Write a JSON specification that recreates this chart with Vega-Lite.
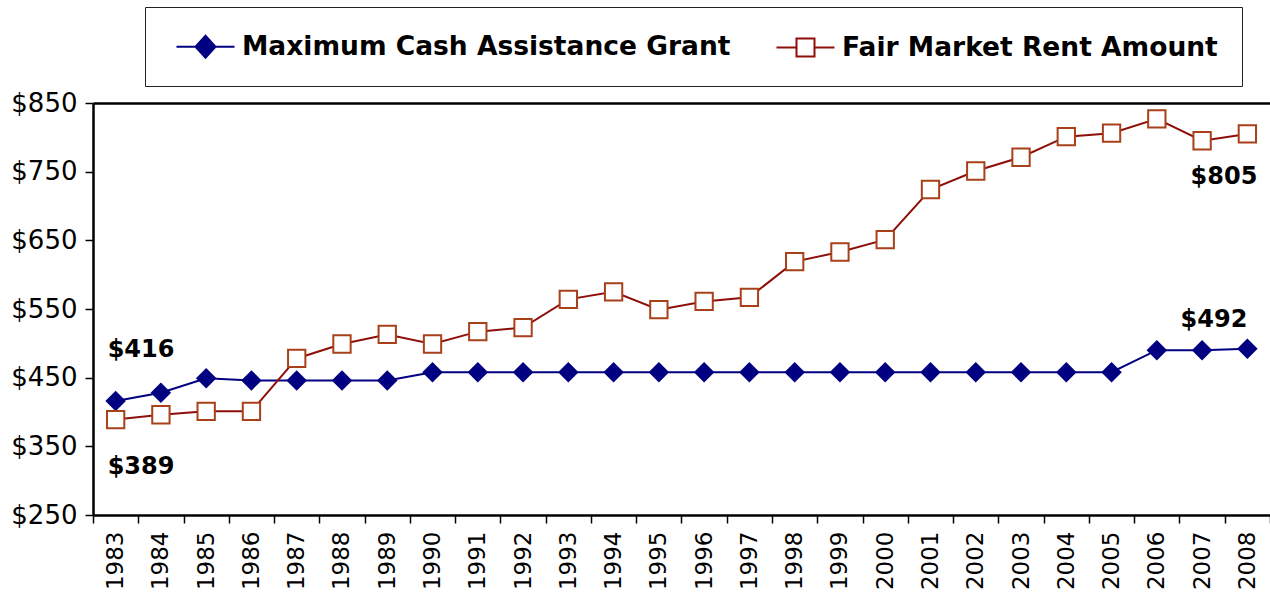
{
  "$schema": "https://vega.github.io/schema/vega-lite/v6.json",
  "autosize": "none",
  "width": 1177,
  "height": 412,
  "padding": {"left": 93, "top": 103, "right": 0, "bottom": 84},
  "background": "white",
  "config": {
    "view": {"stroke": null},
    "font": "DejaVu Sans"
  },
  "datasets": {
    "series": [
      {"year": "1983", "series": "Maximum Cash Assistance Grant", "value": 416},
      {"year": "1984", "series": "Maximum Cash Assistance Grant", "value": 428},
      {"year": "1985", "series": "Maximum Cash Assistance Grant", "value": 449},
      {"year": "1986", "series": "Maximum Cash Assistance Grant", "value": 446},
      {"year": "1987", "series": "Maximum Cash Assistance Grant", "value": 446},
      {"year": "1988", "series": "Maximum Cash Assistance Grant", "value": 446},
      {"year": "1989", "series": "Maximum Cash Assistance Grant", "value": 446},
      {"year": "1990", "series": "Maximum Cash Assistance Grant", "value": 458},
      {"year": "1991", "series": "Maximum Cash Assistance Grant", "value": 458},
      {"year": "1992", "series": "Maximum Cash Assistance Grant", "value": 458},
      {"year": "1993", "series": "Maximum Cash Assistance Grant", "value": 458},
      {"year": "1994", "series": "Maximum Cash Assistance Grant", "value": 458},
      {"year": "1995", "series": "Maximum Cash Assistance Grant", "value": 458},
      {"year": "1996", "series": "Maximum Cash Assistance Grant", "value": 458},
      {"year": "1997", "series": "Maximum Cash Assistance Grant", "value": 458},
      {"year": "1998", "series": "Maximum Cash Assistance Grant", "value": 458},
      {"year": "1999", "series": "Maximum Cash Assistance Grant", "value": 458},
      {"year": "2000", "series": "Maximum Cash Assistance Grant", "value": 458},
      {"year": "2001", "series": "Maximum Cash Assistance Grant", "value": 458},
      {"year": "2002", "series": "Maximum Cash Assistance Grant", "value": 458},
      {"year": "2003", "series": "Maximum Cash Assistance Grant", "value": 458},
      {"year": "2004", "series": "Maximum Cash Assistance Grant", "value": 458},
      {"year": "2005", "series": "Maximum Cash Assistance Grant", "value": 458},
      {"year": "2006", "series": "Maximum Cash Assistance Grant", "value": 490},
      {"year": "2007", "series": "Maximum Cash Assistance Grant", "value": 490},
      {"year": "2008", "series": "Maximum Cash Assistance Grant", "value": 492},
      {"year": "1983", "series": "Fair Market Rent Amount", "value": 389},
      {"year": "1984", "series": "Fair Market Rent Amount", "value": 396},
      {"year": "1985", "series": "Fair Market Rent Amount", "value": 401},
      {"year": "1986", "series": "Fair Market Rent Amount", "value": 401},
      {"year": "1987", "series": "Fair Market Rent Amount", "value": 478},
      {"year": "1988", "series": "Fair Market Rent Amount", "value": 499},
      {"year": "1989", "series": "Fair Market Rent Amount", "value": 513},
      {"year": "1990", "series": "Fair Market Rent Amount", "value": 499},
      {"year": "1991", "series": "Fair Market Rent Amount", "value": 517},
      {"year": "1992", "series": "Fair Market Rent Amount", "value": 523},
      {"year": "1993", "series": "Fair Market Rent Amount", "value": 564},
      {"year": "1994", "series": "Fair Market Rent Amount", "value": 575},
      {"year": "1995", "series": "Fair Market Rent Amount", "value": 549},
      {"year": "1996", "series": "Fair Market Rent Amount", "value": 561},
      {"year": "1997", "series": "Fair Market Rent Amount", "value": 567},
      {"year": "1998", "series": "Fair Market Rent Amount", "value": 619},
      {"year": "1999", "series": "Fair Market Rent Amount", "value": 633},
      {"year": "2000", "series": "Fair Market Rent Amount", "value": 651},
      {"year": "2001", "series": "Fair Market Rent Amount", "value": 724},
      {"year": "2002", "series": "Fair Market Rent Amount", "value": 751},
      {"year": "2003", "series": "Fair Market Rent Amount", "value": 771},
      {"year": "2004", "series": "Fair Market Rent Amount", "value": 801},
      {"year": "2005", "series": "Fair Market Rent Amount", "value": 806},
      {"year": "2006", "series": "Fair Market Rent Amount", "value": 827},
      {"year": "2007", "series": "Fair Market Rent Amount", "value": 795},
      {"year": "2008", "series": "Fair Market Rent Amount", "value": 805}
    ],
    "labels": [
      {"year": "1983", "value": 416, "label": "$416"},
      {"year": "1983", "value": 389, "label": "$389"},
      {"year": "2008", "value": 492, "label": "$492"},
      {"year": "2008", "value": 805, "label": "$805"}
    ]
  },
  "encoding": {
    "x": {
      "field": "year",
      "type": "ordinal",
      "scale": {"type": "band", "paddingInner": 0, "paddingOuter": 0},
      "axis": {
        "title": null,
        "tickBand": "extent",
        "labelAngle": -90,
        "labelFontSize": 23,
        "labelColor": "black",
        "labelPadding": 8,
        "tickSize": 8,
        "tickColor": "black",
        "tickWidth": 1.5,
        "domainColor": "black",
        "domainWidth": 2.5
      }
    },
    "y": {
      "field": "value",
      "type": "quantitative",
      "scale": {"domain": [250, 850], "nice": false},
      "axis": {
        "title": null,
        "values": [250, 350, 450, 550, 650, 750, 850],
        "format": "$d",
        "labelFontSize": 26,
        "labelColor": "black",
        "labelPadding": 8,
        "tickSize": 8,
        "tickColor": "black",
        "tickWidth": 1.5,
        "domainColor": "black",
        "domainWidth": 2.5,
        "grid": true,
        "gridWidth": 2.5,
        "gridColor": {"condition": {"test": "datum.value === 850", "value": "black"}, "value": "transparent"}
      }
    }
  },
  "layer": [
    {
      "data": {"name": "series"},
      "mark": {"type": "line", "strokeWidth": 2},
      "encoding": {
        "color": {
          "field": "series",
          "type": "nominal",
          "scale": {
            "domain": ["Maximum Cash Assistance Grant", "Fair Market Rent Amount"],
            "range": ["#000080", "#8E0F0A"]
          },
          "legend": {
            "title": null,
            "orient": "none",
            "legendX": 52,
            "legendY": -96,
            "direction": "horizontal",
            "columns": 2,
            "columnPadding": 38,
            "padding": 24,
            "strokeColor": "#222222",
            "fillColor": "white",
            "labelFontSize": 26.5,
            "labelFontWeight": "bold",
            "labelColor": "black",
            "labelOffset": 21,
            "labelLimit": 800,
            "symbolSize": 841,
            "symbolOffset": 21,
            "symbolStrokeWidth": 2,
            "encode": {
              "symbols": {
                "update": {
                  "shape": {"signal": "datum.value === 'Maximum Cash Assistance Grant' ? 'M-2,0L-0.69,0M0.69,0L2,0M0,-0.76L0.69,0L0,0.76L-0.69,0Z' : 'M-2,0L-0.62,0M0.62,0L2,0M-0.62,-0.62L0.62,-0.62L0.62,0.62L-0.62,0.62Z'"},
                  "fill": {"signal": "datum.value === 'Maximum Cash Assistance Grant' ? '#000080' : 'white'"},
                  "stroke": {"signal": "datum.value === 'Maximum Cash Assistance Grant' ? '#000080' : '#A8401A'"},
                  "strokeWidth": {"value": 2},
                  "size": {"value": 841},
                  "opacity": {"value": 1}
                }
              }
            }
          }
        }
      }
    },
    {
      "data": {"name": "series"},
      "transform": [{"filter": "datum.series === 'Maximum Cash Assistance Grant'"}],
      "mark": {"type": "point", "shape": "diamond", "filled": true, "size": 420, "color": "#000080", "opacity": 1}
    },
    {
      "data": {"name": "series"},
      "transform": [{"filter": "datum.series === 'Fair Market Rent Amount'"}],
      "mark": {"type": "point", "shape": "square", "filled": true, "size": 300, "fill": "white", "stroke": "#A8401A", "strokeWidth": 2, "opacity": 1}
    },
    {
      "data": {"name": "labels"},
      "transform": [{"filter": "datum.label === '$416'"}],
      "mark": {"type": "text", "align": "left", "baseline": "middle", "dx": -8, "dy": -51, "fontSize": 24, "fontWeight": "bold", "color": "black"},
      "encoding": {"text": {"field": "label"}}
    },
    {
      "data": {"name": "labels"},
      "transform": [{"filter": "datum.label === '$389'"}],
      "mark": {"type": "text", "align": "left", "baseline": "middle", "dx": -8, "dy": 47, "fontSize": 24, "fontWeight": "bold", "color": "black"},
      "encoding": {"text": {"field": "label"}}
    },
    {
      "data": {"name": "labels"},
      "transform": [{"filter": "datum.label === '$492'"}],
      "mark": {"type": "text", "align": "right", "baseline": "middle", "dx": 0, "dy": -29, "fontSize": 24, "fontWeight": "bold", "color": "black"},
      "encoding": {"text": {"field": "label"}}
    },
    {
      "data": {"name": "labels"},
      "transform": [{"filter": "datum.label === '$805'"}],
      "mark": {"type": "text", "align": "right", "baseline": "middle", "dx": 10, "dy": 43, "fontSize": 24, "fontWeight": "bold", "color": "black"},
      "encoding": {"text": {"field": "label"}}
    }
  ]
}
